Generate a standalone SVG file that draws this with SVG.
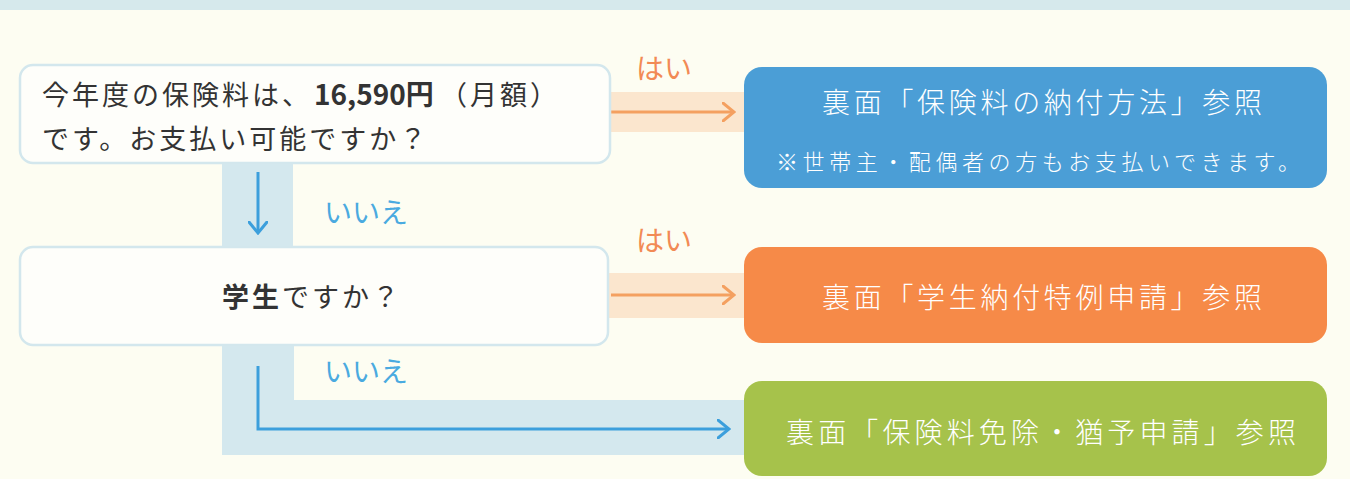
<svg xmlns="http://www.w3.org/2000/svg" width="1350" height="479" viewBox="0 0 1350 479">
<defs>
<style>
.jp{font-family:"Noto Sans CJK JP","Noto Sans",sans-serif}
.q{font-size:27px;fill:#333333;letter-spacing:3px}
.b{font-weight:bold}
.w{fill:#ffffff;font-weight:300}
.qbox{fill:#fefefa;stroke:#d3e7ed;stroke-width:2.5}
.band{fill:#d4e8ee}
.pband{fill:#fbe6ce}
.ba{fill:none;stroke:#3c9fdc;stroke-width:3}
.oa{fill:none;stroke:#f4a060;stroke-width:3}
.yes{font-size:28px;fill:#f28a55}
.no{font-size:28px;fill:#4aaae0}
</style>
<marker id="mb" markerWidth="14" markerHeight="20" refX="12" refY="10" orient="auto" markerUnits="userSpaceOnUse">
<path d="M1,1 L12,10 L1,19" fill="none" stroke="#3c9fdc" stroke-width="3" stroke-linecap="round"/>
</marker>
<marker id="mo" markerWidth="14" markerHeight="20" refX="12" refY="10" orient="auto" markerUnits="userSpaceOnUse">
<path d="M1,1 L12,10 L1,19" fill="none" stroke="#f4a060" stroke-width="3" stroke-linecap="round"/>
</marker>
</defs>
<rect x="0" y="0" width="1350" height="479" fill="#fdfdf2"/>
<rect x="0" y="0" width="1350" height="10" fill="#d6e9ec"/>

<g id="connectors">
<rect class="band" x="222" y="162" width="71" height="87"/>
<path class="band" d="M222,344 H294 V400 H745 V455 H222 Z"/>
<rect class="pband" x="608" y="92" width="138" height="40"/>
<rect class="pband" x="608" y="273" width="138" height="45"/>
<line class="ba" x1="258" y1="172" x2="258" y2="233" marker-end="url(#mb)"/>
<path class="ba" d="M258,366 V429 H729" marker-end="url(#mb)"/>
<line class="oa" x1="611" y1="112" x2="734" y2="112" marker-end="url(#mo)"/>
<line class="oa" x1="611" y1="295" x2="734" y2="295" marker-end="url(#mo)"/>
<text class="jp yes" x="636" y="79">はい</text>
<text class="jp yes" x="636" y="251">はい</text>
<text class="jp no" x="324" y="223">いいえ</text>
<text class="jp no" x="324" y="382">いいえ</text>
</g>

<g id="q1">
<rect class="qbox" x="20" y="65" width="590" height="98" rx="13"/>
<text class="jp q" y="105"><tspan x="42">今年度の保険料は、</tspan><tspan class="b" x="314" letter-spacing="0" font-size="28">16,590円</tspan><tspan x="440">（月額）</tspan></text>
<text class="jp q" x="42" y="149">です。お支払い可能ですか？</text>
</g>

<g id="q2">
<rect class="qbox" x="20" y="247" width="588" height="98" rx="13"/>
<text class="jp q" x="222" y="307" letter-spacing="2"><tspan class="b">学生</tspan>ですか？</text>
</g>

<g id="r1">
<rect x="744" y="67" width="583" height="121" rx="18" fill="#4b9ed6"/>
<text class="jp w" x="822" y="113" font-size="28" textLength="440" lengthAdjust="spacing">裏面「保険料の納付方法」参照</text>
<text class="jp w" x="776" y="170" font-size="22" textLength="524" lengthAdjust="spacing">※世帯主・配偶者の方もお支払いできます。</text>
</g>

<g id="r2">
<rect x="744" y="247" width="583" height="96" rx="18" fill="#f68a48"/>
<text class="jp w" x="822" y="308" font-size="28" textLength="440" lengthAdjust="spacing">裏面「学生納付特例申請」参照</text>
</g>

<g id="r3">
<rect x="744" y="381" width="583" height="95" rx="18" fill="#a6c24b"/>
<text class="jp w" x="786" y="443" font-size="28" textLength="510" lengthAdjust="spacing">裏面「保険料免除・猶予申請」参照</text>
</g>
</svg>
